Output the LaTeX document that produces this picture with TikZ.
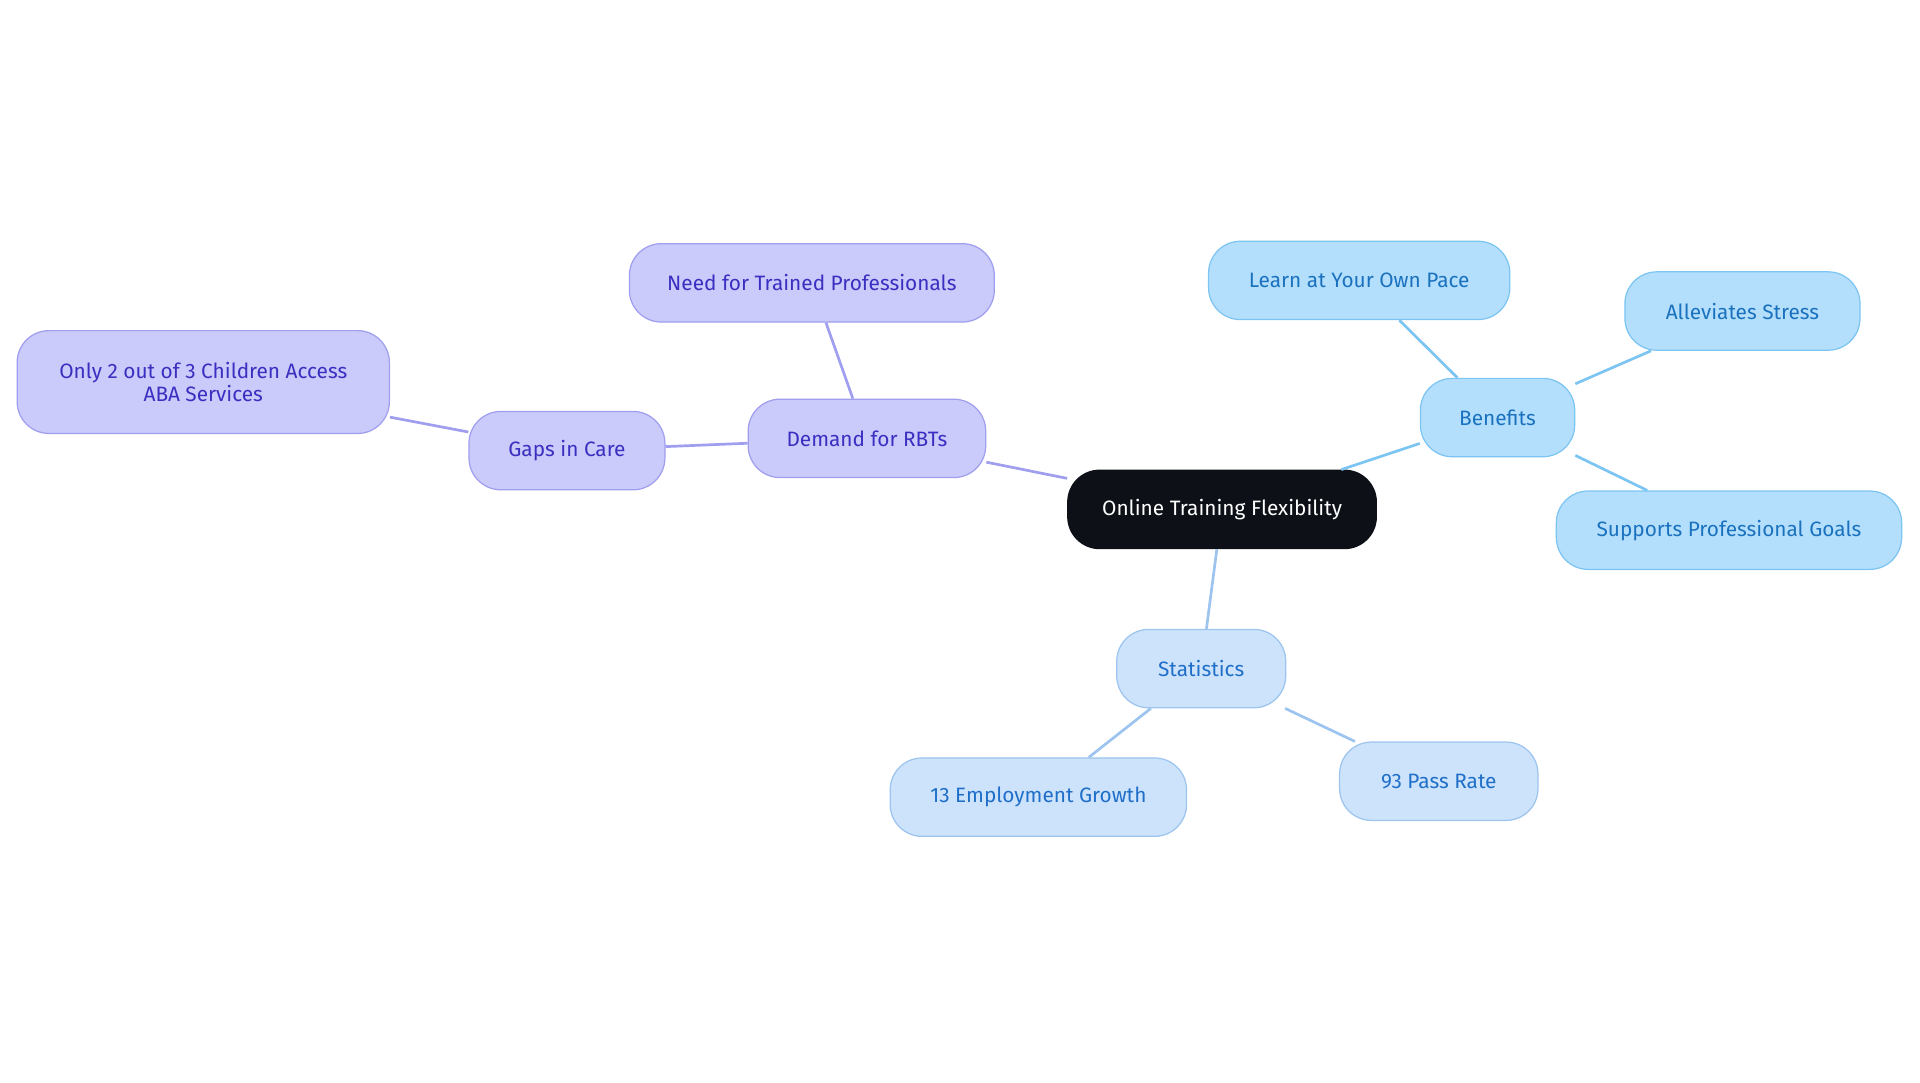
\documentclass[tikz,border=0pt]{standalone}
\usepackage{fontspec}
\setmainfont{Fira Sans}
\definecolor{rootc}{HTML}{0D1117}
\definecolor{pf}{HTML}{CACAFB}\definecolor{pd}{HTML}{A09EEE}\definecolor{pt}{HTML}{3A2FC0}
\definecolor{bf}{HTML}{B4DFFC}\definecolor{bd}{HTML}{7CC4F2}\definecolor{bt}{HTML}{1A72BE}
\definecolor{sf}{HTML}{CDE3FB}\definecolor{sd}{HTML}{9CC4EE}\definecolor{st}{HTML}{1F6FC9}
\tikzset{
 box/.style={rounded corners=26pt,minimum height=64pt,inner sep=0pt,align=center,font=\fontsize{17}{19}\selectfont,line width=1pt},
 pbox/.style={box,fill=pf,draw=pd,text=pt},
 bbox/.style={box,fill=bf,draw=bd,text=bt},
 sbox/.style={box,fill=sf,draw=sd,text=st},
 pe/.style={draw=pd,line width=2.2pt},
 be/.style={draw=bd,line width=2.2pt},
 se/.style={draw=sd,line width=2.2pt}}
\begin{document}
\begin{tikzpicture}[x=1pt,y=-1pt]
\useasboundingbox (0,0) rectangle (1568,884);
\node[box,fill=rootc,draw=rootc,text=white,minimum width=252pt] (root) at (998,416) {Online Training Flexibility};
\node[pbox,minimum width=194pt] (dem) at (708,358) {Demand for RBTs};
\node[pbox,minimum width=298pt] (need) at (663,231) {Need for Trained Professionals};
\node[pbox,minimum width=160pt] (gaps) at (463,368) {Gaps in Care};
\node[pbox,minimum width=304pt,minimum height=84pt] (only) at (166,312) {Only 2 out of 3 Children Access\\ABA Services};
\node[bbox,minimum width=126pt] (ben) at (1223,341) {Benefits};
\node[bbox,minimum width=246pt] (learn) at (1110,229) {Learn at Your Own Pace};
\node[bbox,minimum width=192pt] (all) at (1423,254) {Alleviates Stress};
\node[bbox,minimum width=282pt] (sup) at (1412,433) {Supports Professional Goals};
\node[sbox,minimum width=138pt] (stat) at (981,546) {Statistics};
\node[sbox,minimum width=242pt] (emp) at (848,651) {13 Employment Growth};
\node[sbox,minimum width=162pt] (pass) at (1175,638) {93 Pass Rate};
\draw[pe] (root) -- (dem);
\draw[pe] (dem) -- (need);
\draw[pe] (dem) -- (gaps);
\draw[pe] (gaps) -- (only);
\draw[be] (root) -- (ben);
\draw[be] (ben) -- (learn);
\draw[be] (ben) -- (all);
\draw[be] (ben) -- (sup);
\draw[se] (root) -- (stat);
\draw[se] (stat) -- (emp);
\draw[se] (stat) -- (pass);
\end{tikzpicture}
\end{document}
